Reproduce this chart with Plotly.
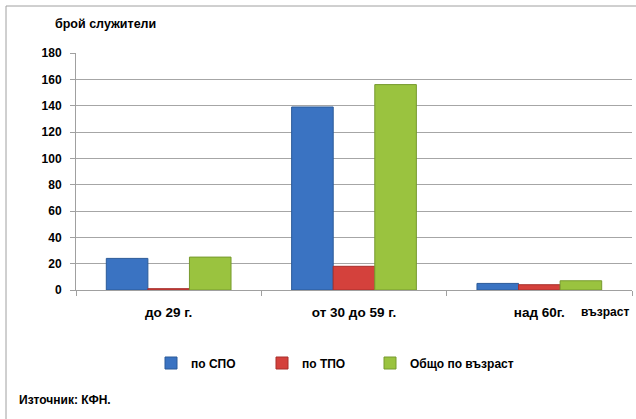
import plotly.graph_objects as go

categories = ["до 29 г.", "от 30 до 59 г.", "над 60г."]
spo = [24, 139, 5]
tpo = [1, 18, 4]
total = [25, 156, 7]
series_names = ["по СПО", "по ТПО", "Общо по възраст"]
colors = ["#3a73c2", "#d4413c", "#9ac33f"]
edge = ["#2b5a98", "#a82f2b", "#779a2e"]
y_ticks = [0, 20, 40, 60, 80, 100, 120, 140, 160, 180]

FONT = "Liberation Sans"
W, H = 636, 419
L, R, T, B = 76, 4, 53, 129
PW, PH = W - L - R, H - T - B
legend_ids = ["legend", "legend2", "legend3"]
legend_x = [151, 262, 370]

fig = go.Figure()
for name, vals, c, e, lg in zip(series_names, [spo, tpo, total], colors, edge, legend_ids):
    fig.add_trace(go.Bar(x=categories, y=vals, name=name, legend=lg,
                         marker=dict(color=c, line=dict(color=e, width=1))))

legend_style = dict(orientation="h", xref="container", yref="container",
                    xanchor="left", y=1 - 363 / H, yanchor="middle",
                    font=dict(family=FONT, size=12, color="black", weight="bold"),
                    itemwidth=30, bgcolor="rgba(0,0,0,0)")

fig.update_layout(
    width=W, height=H,
    margin=dict(l=L, r=R, t=T, b=B),
    paper_bgcolor="white", plot_bgcolor="white",
    barmode="group", bargap=0.327, bargroupgap=0,
    font=dict(family=FONT, size=11, color="black"),
    showlegend=True,
    xaxis=dict(showline=True, linecolor="#a0a0a0", linewidth=1,
               ticks="outside", ticklen=5, tickcolor="#a0a0a0", tickson="boundaries",
               tickfont=dict(family=FONT, size=13.5, color="black", weight="bold"),
               ticklabelstandoff=10),
    yaxis=dict(range=[0, 180], tickvals=y_ticks, showgrid=True, gridcolor="#a6a6a6",
               showline=True, linecolor="#a0a0a0", ticks="outside", ticklen=5,
               tickcolor="#a0a0a0", zeroline=False, ticklabelstandoff=6,
               tickfont=dict(family=FONT, size=12, color="black", weight="bold")),
)
for lg, lx in zip(legend_ids, legend_x):
    fig.update_layout({lg: dict(legend_style, x=lx / W)})

fig.add_annotation(text="<b>брой служители</b>", xref="paper", yref="paper",
                   x=(53 - L) / PW, y=1 + (T - 24) / PH, xanchor="left", yanchor="middle",
                   showarrow=False, font=dict(family=FONT, size=12.5, color="black"))
fig.add_annotation(text="<b>възраст</b>", xref="paper", yref="paper",
                   x=(631 - L) / PW, y=-(312 - (H - B)) / PH, xanchor="right", yanchor="middle",
                   showarrow=False, font=dict(family=FONT, size=12, color="black"))
fig.add_annotation(text="<b>Източник: КФН.</b>", xref="paper", yref="paper",
                   x=(17 - L) / PW, y=-(400 - (H - B)) / PH, xanchor="left", yanchor="middle",
                   showarrow=False, font=dict(family=FONT, size=12, color="black"))
fig.add_shape(type="rect", xref="paper", yref="paper",
              x0=(6 - L) / PW, x1=(W + 10 - L) / PW,
              y0=-(H + 10 - (H - B)) / PH, y1=1 + (T - 6) / PH,
              line=dict(color="#a0a0a0", width=1))

fig.write_html("out.html")
